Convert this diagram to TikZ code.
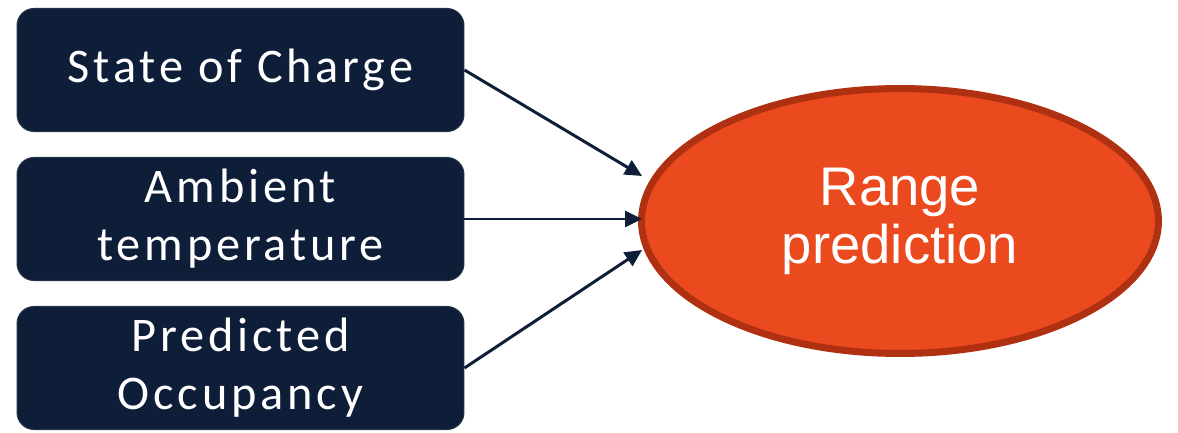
\documentclass[tikz,border=0pt]{standalone}
\usepackage{fontspec}
\usepackage{xcolor}
\usetikzlibrary{arrows.meta, calc, shapes.geometric}
\newfontfamily\inputfont[LetterSpace=8]{Carlito}
\newfontfamily\predfont{Liberation Sans}
\definecolor{navy}{HTML}{0E1E38}
\definecolor{rangeorange}{HTML}{EA4A1E}
\definecolor{rangeedge}{HTML}{B03012}
\tikzset{inputbox/.style={rectangle, rounded corners=0.34cm, draw=navy!80!gray, line width=0.6pt, fill=navy,
            minimum width=8.94cm, minimum height=2.46cm, align=center, text=white,
            font=\inputfont\fontsize{27.5}{33}\selectfont},
         predell/.style={ellipse, draw=rangeedge, line width=0.14cm, fill=rangeorange,
            minimum width=10.34cm, minimum height=5.3cm, align=center, text=white,
            font=\predfont\fontsize{31}{33}\selectfont},
         feed/.style={draw=navy, line width=1.7pt, -{Triangle[length=0.34cm, width=0.32cm]}}}
\begin{document}
\begin{tikzpicture}[x=0.02cm, y=-0.02cm]
                 \useasboundingbox (0,0) rectangle (1178,433);
                 \node[inputbox] (soc) at (240.5,70) {State of Charge};
                 \node[inputbox] (temp) at (240.5,219) {Ambient\\temperature};
                 \node[inputbox] (occ) at (240.5,368) {Predicted\\Occupancy};
                 \node[predell] (range) at (900,221) {Range\\prediction};
                 % arrow tips on the left side of the ellipse
                 \coordinate (tipsoc) at ($(range.west)+(4,-45)$);
                 \coordinate (tiptemp) at ($(range.west)+(4,-2)$);
                 \coordinate (tipocc) at ($(range.west)+(4,29)$);
                 \draw[feed] (soc.east) -- (tipsoc);
                 \draw[feed] (temp.east) -- (tiptemp);
                 \draw[feed] (occ.east) -- (tipocc);
\end{tikzpicture}
\end{document}
